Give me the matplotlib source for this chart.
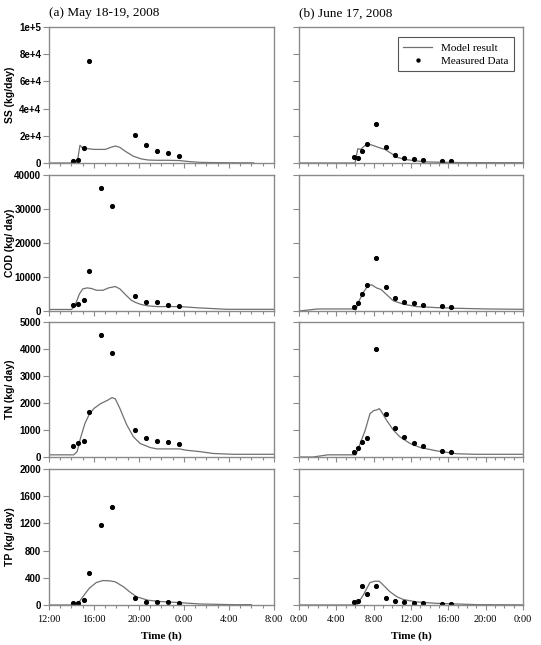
import numpy as np
import matplotlib
matplotlib.use("Agg")
import matplotlib.pyplot as plt
from matplotlib.ticker import FixedLocator, MultipleLocator

# ---------------- data ----------------
# (a) May 18-19, 2008 : hours from 12:00 (values > 24 are next day)
meas_t_a = [14.1, 14.6, 15.1, 15.6, 16.6, 17.6, 19.6, 20.6, 21.6, 22.6, 23.6]
ss_meas_a = [1500, 2500, 10800, 74800, np.nan, np.nan, 20600, 13000, 8600, 7400, 5400]
cod_meas_a = [1900, 2000, 3300, 11900, 36300, 31000, 4300, 2750, 2650, 1850, 1600]
tn_meas_a = [420, 520, 600, 1670, 4520, 3850, 1010, 700, 580, 540, 490]
tp_meas_a = [35, 30, 70, 470, 1175, 1440, 100, 50, 40, 45, 30]

ss_mod_t_a = [12, 14.5, 14.75, 15.0, 15.5, 16.0, 16.5, 17.0, 17.5, 17.9, 18.3, 18.8, 19.5, 20.2,
              20.8, 21.6, 22.6, 23.6, 24.5, 25.4, 26.5, 28, 30.2]
ss_mod_a = [0, 0, 13000, 11000, 10500, 10000, 10000, 10000, 11500, 12500, 11500, 8500, 5000, 3000,
            2200, 2000, 2000, 1800, 1000, 500, 300, 200, 100]
cod_mod_t_a = [12, 14.0, 14.3, 14.7, 15.0, 15.4, 15.8, 16.2, 16.8, 17.3, 17.9, 18.3, 18.8, 19.3,
               19.7, 20.2, 20.8, 21.6, 22.6, 23.6, 24.5, 25.4, 26.6, 27.8, 32]
cod_mod_a = [450, 450, 1500, 5000, 6500, 6800, 6600, 6100, 6100, 6800, 7200, 6500, 4800, 3200,
             2500, 1900, 1500, 1300, 1300, 1300, 1100, 900, 700, 500, 500]
tn_mod_t_a = [12, 14.2, 14.5, 14.8, 15.2, 15.6, 16.0, 16.6, 17.2, 17.6, 17.9, 18.3, 18.9, 19.5,
              20.1, 21.0, 21.6, 23.6, 24.2, 25.4, 26.6, 28.4, 32]
tn_mod_a = [80, 80, 200, 700, 1250, 1600, 1800, 1980, 2100, 2200, 2150, 1800, 1200, 750,
            500, 350, 300, 300, 250, 200, 130, 100, 100]
tp_mod_t_a = [12, 14.5, 15.0, 15.6, 16.2, 16.8, 17.4, 17.9, 18.6, 19.2, 19.8, 20.8, 22.0, 23.6,
              25.4, 28.4, 30.0]
tp_mod_a = [0, 0, 120, 250, 330, 360, 355, 340, 270, 190, 120, 70, 50, 35, 15, 5, 5]

# (b) June 17, 2008 : hours from 0:00
meas_t_b = [5.85, 6.3, 6.8, 7.3, 8.3, 9.3, 10.3, 11.3, 12.3, 13.3, 15.3, 16.3]
ss_meas_b = [4700, 3400, 8600, 14000, 28400, 12000, 6100, 3700, 2700, 2500, 1700, 1200]
cod_meas_b = [1300, 2450, 5000, 7500, 15700, 7100, 3700, 2750, 2250, 1850, 1400, 1200]
tn_meas_b = [200, 320, 570, 700, 4010, 1600, 1070, 740, 530, 400, 210, 170]
tp_meas_b = [45, 60, 275, 165, 275, 110, 60, 40, 35, 25, 15, 15]

ss_mod_t_b = [0, 6.0, 6.3, 6.6, 7.0, 7.4, 7.9, 8.7, 9.2, 9.9, 10.6, 11.5, 12.6, 13.7, 15.5, 17.3, 24]
ss_mod_b = [0, 0, 10500, 10000, 12500, 14000, 13000, 11000, 10000, 7000, 4000, 2500, 1500, 800,
            500, 300, 200]
cod_mod_t_b = [0, 1.0, 2.0, 5.9, 6.1, 6.35, 6.9, 7.4, 7.8, 8.3, 8.8, 9.4, 10.1, 11.2, 12.6, 14.7,
               16.9, 20.1, 24]
cod_mod_b = [0, 300, 600, 600, 300, 2500, 5500, 7500, 7700, 6800, 6300, 4800, 3000, 2000, 1300,
             1000, 800, 600, 500]
tn_mod_t_b = [0, 1.5, 3.1, 6.1, 6.5, 7.1, 7.6, 8.0, 8.3, 8.6, 8.8, 9.4, 10.1, 10.8, 11.9, 13.0,
              14.7, 16.9, 19.0, 24]
tn_mod_b = [0, 0, 80, 80, 450, 1000, 1600, 1720, 1740, 1790, 1700, 1350, 1000, 750, 500, 350,
            230, 120, 100, 100]
tp_mod_t_b = [0, 6.2, 6.9, 7.6, 8.1, 8.6, 9.2, 9.7, 10.5, 11.2, 12.6, 14.7, 16.9, 19.1, 24]
tp_mod_b = [0, 0, 150, 330, 350, 350, 270, 200, 120, 80, 45, 25, 15, 5, 2]

ylabels = ["SS (kg/day)", "COD (kg/ day)", "TN (kg/ day)", "TP (kg/ day)"]
yticks = [[0, 20000, 40000, 60000, 80000, 100000],
          [0, 10000, 20000, 30000, 40000],
          [0, 1000, 2000, 3000, 4000, 5000],
          [0, 400, 800, 1200, 1600, 2000]]
yticklabels = [["0", "2e+4", "4e+4", "6e+4", "8e+4", "1e+5"],
               ["0", "10000", "20000", "30000", "40000"],
               ["0", "1000", "2000", "3000", "4000", "5000"],
               ["0", "400", "800", "1200", "1600", "2000"]]
xticks_a = [12, 16, 20, 24, 28, 32]
xticklabels_a = ["12:00", "16:00", "20:00", "0:00", "4:00", "8:00"]
xticks_b = [0, 4, 8, 12, 16, 20, 24]
xticklabels_b = ["0:00", "4:00", "8:00", "12:00", "16:00", "20:00", "0:00"]

mods_a = [(ss_mod_t_a, ss_mod_a), (cod_mod_t_a, cod_mod_a), (tn_mod_t_a, tn_mod_a), (tp_mod_t_a, tp_mod_a)]
mods_b = [(ss_mod_t_b, ss_mod_b), (cod_mod_t_b, cod_mod_b), (tn_mod_t_b, tn_mod_b), (tp_mod_t_b, tp_mod_b)]
meas_a = [ss_meas_a, cod_meas_a, tn_meas_a, tp_meas_a]
meas_b = [ss_meas_b, cod_meas_b, tn_meas_b, tp_meas_b]

# ---------------- figure ----------------
W, H = 541, 645
fig = plt.figure(figsize=(W / 100, H / 100), dpi=100)

tops = [27, 175, 322, 469]
bots = [163, 311, 457, 605]
xl_a, xr_a = 49, 274
xl_b, xr_b = 299, 523

SERIF = "Liberation Serif"
SANS = "Liberation Sans"
spine_col = "#8a8a8a"
line_col = "#707070"


def style(ax):
    for s in ax.spines.values():
        s.set_color(spine_col)
        s.set_linewidth(1.0)
    ax.tick_params(axis="both", which="both", direction="out", color=spine_col,
                   width=0.8, labelcolor="black")
    ax.tick_params(axis="y", which="major", length=4, pad=1.5)
    ax.tick_params(axis="x", which="major", length=3.5, pad=4)
    ax.tick_params(axis="x", which="minor", length=2)


for i in range(4):
    b = 1 - bots[i] / H
    h = (bots[i] - tops[i]) / H
    axa = fig.add_axes([xl_a / W, b, (xr_a - xl_a) / W, h])
    axb = fig.add_axes([xl_b / W, b, (xr_b - xl_b) / W, h])

    for ax, mods, meas, mt in ((axa, mods_a, meas_a, meas_t_a), (axb, mods_b, meas_b, meas_t_b)):
        ax.plot(mods[i][0], mods[i][1], color=line_col, lw=0.9, label="Model result")
        ax.plot(mt, meas[i], linestyle="none", marker="o", ms=2.7, color="black",
                label="Measured Data")
        ax.set_ylim(0, yticks[i][-1])
        ax.yaxis.set_major_locator(FixedLocator(yticks[i]))
        ax.xaxis.set_minor_locator(MultipleLocator(1))
        style(ax)

    axa.set_xlim(12, 32)
    axb.set_xlim(0, 24)
    axa.set_xticks(xticks_a)
    axb.set_xticks(xticks_b)
    axa.set_yticklabels(yticklabels[i], fontfamily=SANS, fontweight="bold", fontsize=7)
    axb.set_yticklabels([])
    axa.set_ylabel(ylabels[i], fontfamily=SANS, fontweight="bold", fontsize=7.5)
    axa.yaxis.set_label_coords(-0.151, 0.5)

    if i == 3:
        axa.set_xticklabels(xticklabels_a, fontfamily=SERIF, fontsize=7.5)
        axb.set_xticklabels(xticklabels_b, fontfamily=SERIF, fontsize=7.5)
        for ax in (axa, axb):
            ax.set_xlabel("Time (h)", fontfamily=SERIF, fontweight="bold", fontsize=8, labelpad=5)
    else:
        axa.set_xticklabels([])
        axb.set_xticklabels([])

    if i == 0:
        axa.set_title("(a) May 18-19, 2008", fontfamily=SERIF, fontsize=9.5, loc="left",
                      x=0.0, pad=8)
        axb.set_title("(b) June 17, 2008", fontfamily=SERIF, fontsize=9.5, loc="left",
                      x=0.0, pad=8)
        leg = axb.legend(loc="upper right", bbox_to_anchor=(0.985, 0.965), frameon=True,
                         fancybox=False, edgecolor="#555555", framealpha=1,
                         prop={"family": SERIF, "size": 8}, handlelength=2.6,
                         borderpad=0.5, labelspacing=0.3, handletextpad=0.8,
                         markerscale=0.8)
        leg.get_frame().set_linewidth(0.8)

fig.savefig("out.png", dpi=100)
